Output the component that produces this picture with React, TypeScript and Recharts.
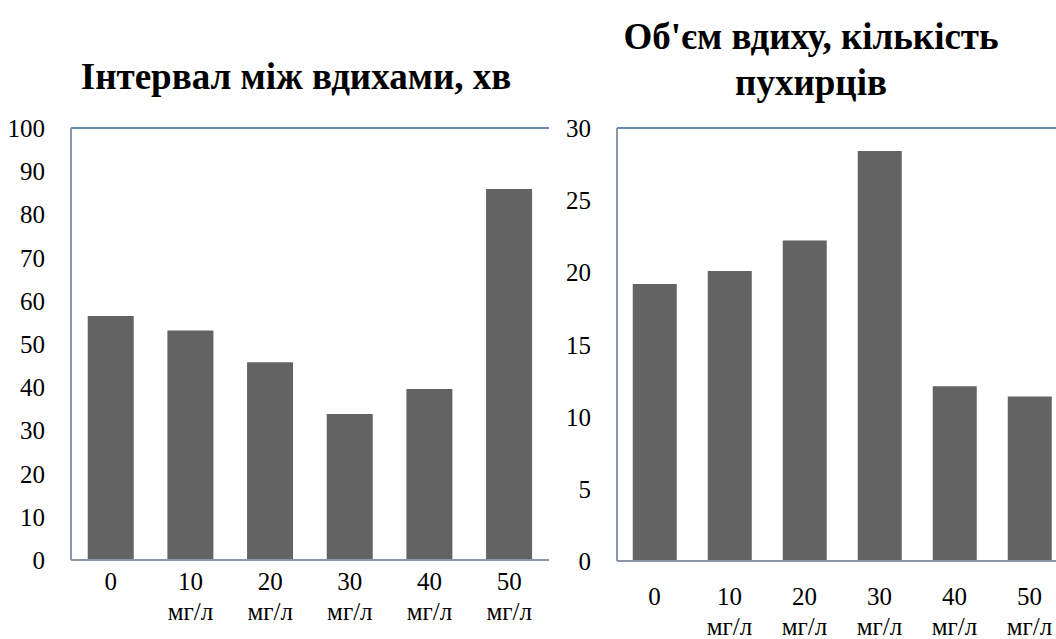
import React from "react";
import { BarChart, Bar, XAxis, YAxis, CartesianGrid, ReferenceLine } from "recharts";

const categories = ["0", "10 мг/л", "20 мг/л", "30 мг/л", "40 мг/л", "50 мг/л"];
const intervalValues = [56.5, 53.1, 45.8, 33.8, 39.6, 85.9];
const volumeValues = [19.2, 20.1, 22.2, 28.4, 12.1, 11.4];
const intervalTicks = [0, 10, 20, 30, 40, 50, 60, 70, 80, 90, 100];
const volumeTicks = [0, 5, 10, 15, 20, 25, 30];
const leftTitle = "Інтервал між вдихами, хв";
const rightTitleLines = ["Об'єм вдиху, кількість", "пухирців"];

const leftData = categories.map((c, i) => ({ cat: c, v: intervalValues[i] }));
const rightData = categories.map((c, i) => ({ cat: c, v: volumeValues[i] }));

const FONT = "Liberation Serif, Tinos, Times New Roman, Times, Nimbus Roman, DejaVu Serif, serif";
const AXIS = "#8d96a6";
const BORDER = "#4f81bd";
const GRID = "#8c8c8c";
const BAR = "#636363";

const makeXTick = (dy1: number, dy2: number) => (props: any) => {
  const { x, y, payload } = props;
  const parts = String(payload.value).split(" ");
  return (
    <g>
      <text x={x} y={y + dy1} textAnchor="middle" fontFamily={FONT} fontSize={25} fill="#000">
        {parts[0]}
      </text>
      {parts[1] ? (
        <text x={x} y={y + dy2} textAnchor="middle" fontFamily={FONT} fontSize={25} fill="#000">
          {parts[1]}
        </text>
      ) : null}
    </g>
  );
};

const yTick = (props: any) => {
  const { x, y, payload } = props;
  return (
    <text x={x} y={y + 9} textAnchor="end" fontFamily={FONT} fontSize={25} fill="#000">
      {payload.value}
    </text>
  );
};

export default function App() {
  return (
    <div
      style={{
        position: "absolute",
        left: 0,
        top: 0,
        width: 1056,
        height: 639,
        overflow: "hidden",
        background: "#fff",
      }}
    >
      <div
        style={{
          position: "absolute",
          left: 0,
          width: 592,
          top: 54,
          textAlign: "center",
          fontFamily: FONT,
          fontWeight: "bold",
          fontSize: 37,
          lineHeight: "46px",
          whiteSpace: "nowrap",
        }}
      >
        {leftTitle}
      </div>
      <div
        style={{
          position: "absolute",
          left: 560,
          width: 502,
          top: 14,
          textAlign: "center",
          fontFamily: FONT,
          fontWeight: "bold",
          fontSize: 37,
          lineHeight: "46px",
          whiteSpace: "nowrap",
        }}
      >
        {rightTitleLines[0]}
        <br />
        {rightTitleLines[1]}
      </div>

      <div style={{ position: "absolute", left: 0, top: 0 }}>
        <BarChart
          width={560}
          height={639}
          data={leftData}
          margin={{ top: 128, right: 11, bottom: 0, left: 0 }}
          barCategoryGap="21%"
        >
          <CartesianGrid vertical={false} stroke={GRID} strokeWidth={1.5} />
          <XAxis
            dataKey="cat"
            height={79}
            tickLine={false}
            tickSize={0}
            tickMargin={0}
            axisLine={{ stroke: AXIS, strokeWidth: 2 }}
            interval={0}
            tick={makeXTick(30, 60)}
          />
          <YAxis
            yAxisId="l"
            width={71}
            domain={[0, 100]}
            ticks={intervalTicks}
            tickLine={false}
            axisLine={{ stroke: AXIS, strokeWidth: 2 }}
            tick={yTick}
            tickMargin={20}
          />
          <YAxis yAxisId="r" orientation="right" width={0} tick={false} tickLine={false} axisLine={{ stroke: BORDER, strokeWidth: 1.5 }} />
          <ReferenceLine yAxisId="l" y={100} stroke={BORDER} strokeWidth={1.5} />
          <Bar yAxisId="l" dataKey="v" fill={BAR} isAnimationActive={false} />
        </BarChart>
      </div>

      <div style={{ position: "absolute", left: 560, top: 0 }}>
        <BarChart
          width={520}
          height={639}
          data={rightData}
          margin={{ top: 128, right: 13, bottom: 0, left: 0 }}
          barCategoryGap="21%"
        >
          <CartesianGrid vertical={false} stroke={GRID} strokeWidth={1.5} />
          <XAxis
            dataKey="cat"
            height={78}
            tickLine={false}
            tickSize={0}
            tickMargin={0}
            axisLine={{ stroke: AXIS, strokeWidth: 2 }}
            interval={0}
            tick={makeXTick(44, 74)}
          />
          <YAxis
            yAxisId="l"
            width={57}
            domain={[0, 30]}
            ticks={volumeTicks}
            tickLine={false}
            axisLine={{ stroke: AXIS, strokeWidth: 2 }}
            tick={yTick}
            tickMargin={20}
          />
          <YAxis yAxisId="r" orientation="right" width={0} tick={false} tickLine={false} axisLine={{ stroke: BORDER, strokeWidth: 1.5 }} />
          <ReferenceLine yAxisId="l" y={30} stroke={BORDER} strokeWidth={1.5} />
          <Bar yAxisId="l" dataKey="v" fill={BAR} isAnimationActive={false} />
        </BarChart>
      </div>
    </div>
  );
}
